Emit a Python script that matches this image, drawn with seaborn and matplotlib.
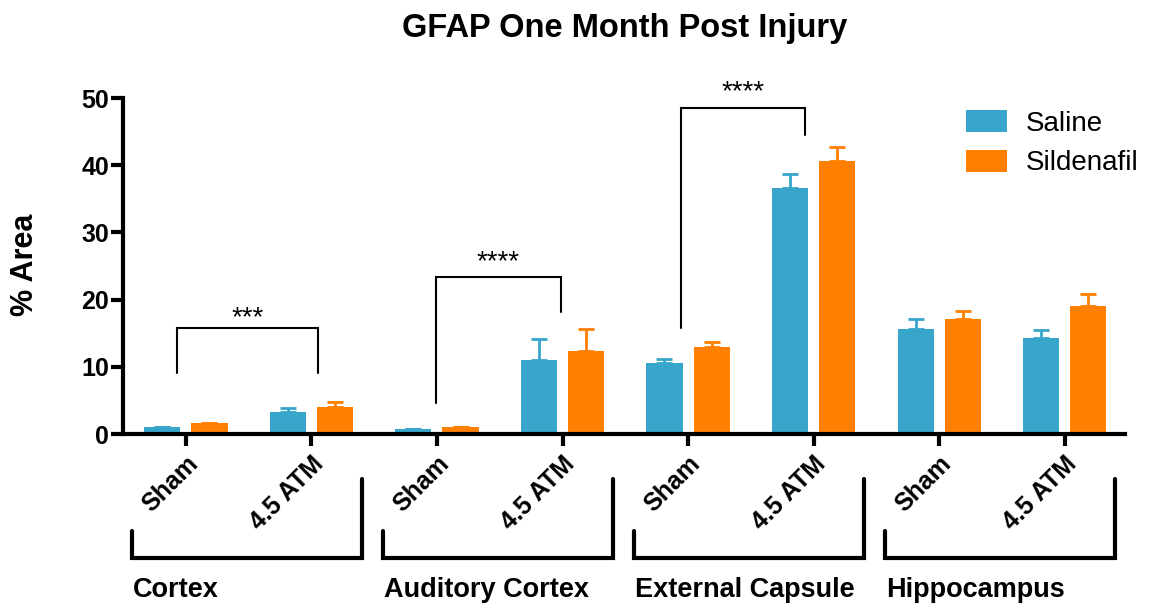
import numpy as np
import pandas as pd
import seaborn as sns
import matplotlib.pyplot as plt

regions = ["Cortex", "Auditory Cortex", "External Capsule", "Hippocampus"]
conditions = ["Sham", "4.5 ATM"]
treatments = ["Saline", "Sildenafil"]
colors = ["#38A6CB", "#FF7F00"]

# % area per bar (Sham, 4.5 ATM for each region)
saline_mean = [1.0, 3.3, 0.7, 11.0, 10.5, 36.6, 15.6, 14.3]
saline_sem = [0.1, 0.6, 0.05, 3.1, 0.6, 2.1, 1.5, 1.2]
sildenafil_mean = [1.6, 4.0, 1.0, 12.3, 13.0, 40.6, 17.1, 19.0]
sildenafil_sem = [0.1, 0.8, 0.1, 3.3, 0.7, 2.1, 1.2, 1.8]

# significance brackets: x left, x right, top, left leg end, right leg end, star baseline, stars
sig_x = [(-0.07, 1.05), (1.99, 2.99), (3.94, 4.93)]
sig_top = [15.8, 23.4, 48.5]
sig_legs = [(9.1, 9.1), (4.6, 18.1), (15.8, 44.5)]
sig_text_y = [16.2, 24.6, 49.8]
sig_labels = ["***", "****", "****"]

sns.set_style("ticks")
plt.rcParams["font.family"] = ["Liberation Sans", "DejaVu Sans"]
for k in ["text.color", "axes.labelcolor", "xtick.color", "ytick.color", "axes.edgecolor"]:
    plt.rcParams[k] = "black"

keys = [f"{r}|{c}" for r in regions for c in conditions]
df = pd.DataFrame({
    "group": keys * 2,
    "treatment": ["Saline"] * len(keys) + ["Sildenafil"] * len(keys),
    "area": saline_mean + sildenafil_mean,
})

fig = plt.figure(figsize=(11.5, 6.05), dpi=100)
ax = fig.add_axes([0.107, 0.2826, 0.8713, 0.5554])

sns.barplot(data=df, x="group", y="area", hue="treatment", order=keys,
            hue_order=treatments, palette=colors, width=0.752, gap=0.234,
            errorbar=None, linewidth=0, saturation=1, ax=ax, zorder=2)

# upper error bars only, tucked behind the bars
for cont, sem, col in zip(ax.containers, [saline_sem, sildenafil_sem], colors):
    xs = [b.get_x() + b.get_width() / 2 for b in cont]
    ys = [b.get_height() for b in cont]
    ax.errorbar(xs, ys, yerr=[np.zeros(len(sem)), sem], fmt="none", ecolor=col,
                elinewidth=2, capsize=6, capthick=2, zorder=1, clip_on=False)

sns.despine(ax=ax)
for s in ["left", "bottom"]:
    ax.spines[s].set_linewidth(3)
ax.set_xlim(-0.5, 7.48)
ax.set_ylim(0, 50)
ax.set_yticks(range(0, 51, 10))
ax.tick_params(axis="both", width=3, length=8.6, direction="out")
ax.tick_params(axis="y", pad=1.5)
ax.tick_params(axis="x", pad=4)
for lab in ax.get_yticklabels():
    lab.set_fontsize(18)
    lab.set_fontweight("bold")
ax.set_xticks(range(len(keys)))
ax.set_xticklabels(conditions * len(regions), rotation=45, ha="right",
                   rotation_mode="anchor", fontweight="bold", fontsize=18)
ax.set_xlabel("")
ax.set_ylabel("")

ax.legend(ax.containers, treatments, loc="upper left",
          bbox_to_anchor=(966 / 1150, 1 - 110 / 605), bbox_transform=fig.transFigure,
          frameon=False, fontsize=20, handlelength=1.47, handleheight=0.86,
          handletextpad=0.68, borderpad=0, borderaxespad=0, labelspacing=0.46)

# significance brackets
for (xl, xr), top, (yl, yr), ty, lab in zip(sig_x, sig_top, sig_legs, sig_text_y, sig_labels):
    ax.plot([xl, xl, xr, xr], [yl, top, top, yr], color="black", lw=1.5,
            clip_on=False, solid_joinstyle="miter")
    ax.text((xl + xr) / 2, ty, lab, ha="center", va="baseline", fontsize=20)

# region brackets under the x axis
trans = ax.get_xaxis_transform()
for i, region in enumerate(regions):
    left, right = 2 * i - 0.43, 2 * i + 1.4
    ax.plot([left, left, right, right], [-0.29, -0.37, -0.37, -0.135],
            transform=trans, clip_on=False, lw=3, color="black", solid_joinstyle="miter")
    ax.text(2 * i - 0.42, -0.485, region, transform=trans, ha="left", va="baseline",
            fontsize=19.5, fontweight="bold")

fig.text(625 / 1150, 1 - 28 / 605, "GFAP One Month Post Injury", ha="center",
         va="center", fontsize=23.5, fontweight="bold")
fig.text(25 / 1150, 1 - 265 / 605, "% Area", rotation=90, ha="center", va="center",
         fontsize=22, fontweight="bold")

fig.savefig("out.png", dpi=100)
